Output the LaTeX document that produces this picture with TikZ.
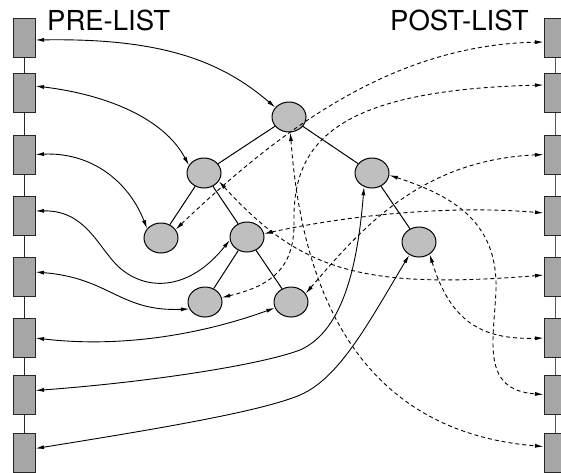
\documentclass[tikz,border=0pt]{standalone}
\usepackage{fontspec}
\setmainfont{TeX Gyre Heros}
\usetikzlibrary{arrows.meta, shapes.geometric}

\begin{document}
\begin{tikzpicture}[x=1pt, y=-1pt,
        pre/.style={<->, >={Latex[length=8.5pt, width=4pt]}, line width=0.9pt},
        post/.style={pre, dash pattern=on 4pt off 3pt}]
        \tikzset{cellule/.style={rectangle, minimum height=39pt, minimum width=22pt, inner sep=0pt, draw=black!85, fill=black!35, line width=1pt}};
        \tikzset{sommet/.style={ellipse, minimum height=30pt, minimum width=34pt, inner sep=0pt, draw=black, fill=black!25, line width=1pt}};
        \tikzset{titre/.style={anchor=base west, inner sep=0pt, font=\fontsize{27.5}{33}\selectfont}};
        \useasboundingbox (0, 0) rectangle (561, 472);

        \node[titre] (pre) at (47, 30) {PRE-LIST};
        \node[titre] (post) at (390, 30) {POST-LIST};

        % the two lists
        \node[cellule] (l1) at (24, 37.5) {};
        \node[cellule] (l2) at (24, 93) {};
        \node[cellule] (l3) at (24, 154.5) {};
        \node[cellule] (l4) at (24, 216) {};
        \node[cellule] (l5) at (24, 277) {};
        \node[cellule] (l6) at (24, 338) {};
        \node[cellule] (l7) at (24, 394.5) {};
        \node[cellule] (l8) at (24, 452.5) {};

        \node[cellule] (r1) at (555, 37.5) {};
        \node[cellule] (r2) at (555, 93) {};
        \node[cellule] (r3) at (555, 154.5) {};
        \node[cellule] (r4) at (555, 216) {};
        \node[cellule] (r5) at (555, 277) {};
        \node[cellule] (r6) at (555, 338) {};
        \node[cellule] (r7) at (555, 394.5) {};
        \node[cellule] (r8) at (555, 452.5) {};

        \draw[black!85, line width=1pt] (l1) -- (l2) (l2) -- (l3) (l3) -- (l4) (l4) -- (l5)
            (l5) -- (l6) (l6) -- (l7) (l7) -- (l8);
        \draw[black!65, line width=1pt] (r1) -- (r2) (r2) -- (r3) (r3) -- (r4) (r4) -- (r5)
            (r5) -- (r6) (r6) -- (r7) (r7) -- (r8);

        % the tree
        \node[sommet] (n1) at (289, 117) {};
        \node[sommet] (n2) at (204, 173) {};
        \node[sommet] (n3) at (161, 238) {};
        \node[sommet] (n4) at (247, 237) {};
        \node[sommet] (n5) at (205, 302) {};
        \node[sommet] (n6) at (291, 302) {};
        \node[sommet] (n7) at (372, 173) {};
        \node[sommet] (n8) at (419, 242) {};

        \draw[line width=1pt] (n1) -- (n2) (n1) -- (n7) (n2) -- (n3) (n2) -- (n4)
            (n4) -- (n5) (n4) -- (n6) (n7) -- (n8);

        % pre-order
        \draw[pre] ([yshift=-2.5pt]l1.east) .. controls (160, 38) and (220, 60) .. (n1.145);
        \draw[pre] ([yshift=7pt]l2.east) .. controls (110, 95) and (165, 120) .. (n2.153);
        \draw[pre] (l3.east) .. controls (90, 152) and (128, 180) .. (n3.146);
        \draw[pre] ([yshift=5pt]l4.east) .. controls (90, 210) and (100, 255) .. (125, 272)
            .. controls (150, 290) and (190, 290) .. (n4.190);
        \draw[pre] ([yshift=5pt]l5.east) .. controls (110, 278) and (120, 312) .. (n5.204);
        \draw[pre] (l6.east) .. controls (120, 348) and (200, 335) .. (n6.200);
        \draw[pre] ([yshift=4pt]l7.east) .. controls (150, 382) and (260, 365) .. (300, 350)
            .. controls (345, 330) and (358, 260) .. (n7.240);
        \draw[pre] ([yshift=4pt]l8.east) .. controls (150, 430) and (260, 412) .. (300, 395)
            .. controls (340, 378) and (370, 320) .. (n8.233);

        % post-order
        \draw[post] (n3.30) .. controls (290, 120) and (400, 45) .. ([yshift=-4.5pt]r1.west);
        \draw[post] (n5.15) .. controls (275, 285) and (295, 265) .. (294, 220)
            .. controls (293, 140) and (340, 90) .. ([yshift=8pt]r2.west);
        \draw[post] (n6.30) .. controls (360, 230) and (420, 160) .. (r3.west);
        \draw[post] (n4.11) .. controls (350, 215) and (450, 205) .. ([yshift=3pt]r4.west);
        \draw[post] (n2.331) .. controls (300, 270) and (360, 290) .. ([yshift=2pt]r5.west);
        \draw[post] (n8.311) .. controls (450, 320) and (480, 340) .. (r6.west);
        \draw[post] (n7.353) .. controls (450, 195) and (498, 220) .. (496, 290)
            .. controls (494, 340) and (480, 390) .. (r7.west);
        \draw[post] (n1.275) .. controls (300, 260) and (340, 430) .. ([yshift=6pt]r8.west);
    \end{tikzpicture}
\end{document}
